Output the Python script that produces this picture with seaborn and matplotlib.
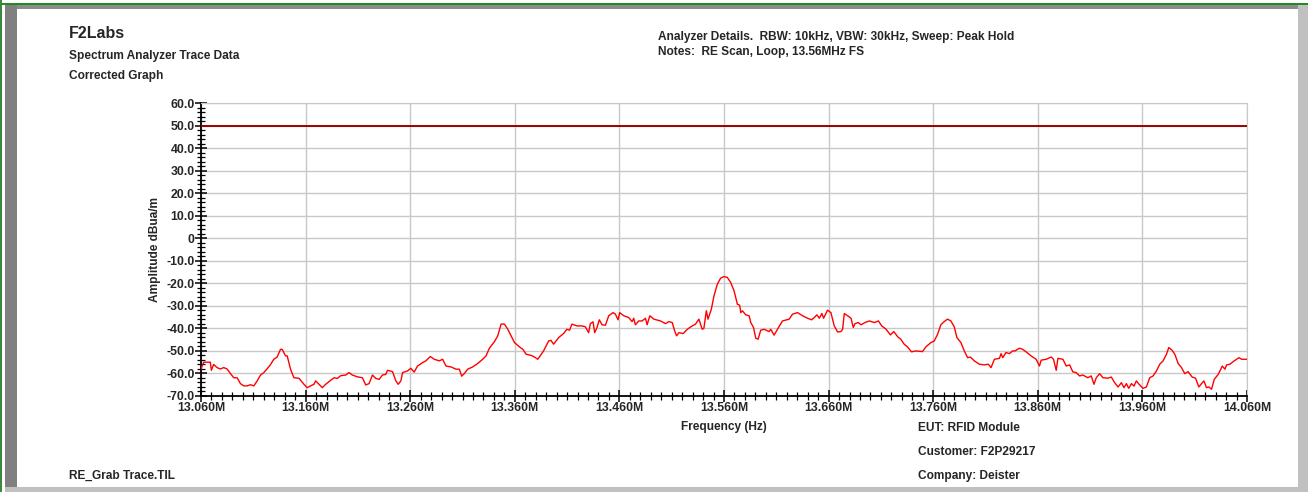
import matplotlib
matplotlib.use("Agg")
import matplotlib.pyplot as plt
from matplotlib.patches import Rectangle
from matplotlib.ticker import MultipleLocator, FuncFormatter
import numpy as np
import pandas as pd
import seaborn as sns

# trace: frequency (kHz) and amplitude (dBuA/m)
freq_khz = [
    13060.0, 13062.6, 13068.9, 13069.9, 13072.1, 13075.3, 13078.5, 13081.7, 13084.9, 13088.1,
    13091.3, 13094.5, 13097.7, 13100.9, 13104.1, 13107.3, 13110.5, 13113.7, 13116.9, 13120.1,
    13123.3, 13126.5, 13129.6, 13132.8, 13136.0, 13137.6, 13140.8, 13142.4, 13145.6, 13148.8,
    13153.6, 13158.4, 13161.6, 13164.8, 13168.0, 13169.6, 13172.8, 13176.0, 13179.2, 13184.0,
    13187.2, 13190.4, 13193.5, 13198.3, 13201.5, 13204.7, 13209.5, 13214.3, 13217.5, 13220.7,
    13223.9, 13227.1, 13230.3, 13233.5, 13236.7, 13238.3, 13243.1, 13246.3, 13248.5, 13251.1,
    13252.7, 13257.4, 13260.6, 13263.8, 13267.0, 13271.8, 13275.0, 13279.2, 13283.0, 13287.8,
    13291.0, 13294.2, 13299.0, 13303.8, 13307.0, 13309.2, 13311.8, 13315.0, 13319.7, 13324.5,
    13329.3, 13332.5, 13335.7, 13340.5, 13343.7, 13346.9, 13350.1, 13353.3, 13356.5, 13359.7,
    13364.5, 13367.7, 13370.9, 13375.7, 13378.8, 13382.0,
    13387.5, 13392.3, 13394.5, 13397.1, 13401.9, 13406.6, 13409.8, 13412.4, 13414.6, 13419.4,
    13424.2, 13427.4, 13430.6, 13432.2, 13434.8, 13436.4, 13438.6, 13440.8, 13443.4, 13446.6,
    13449.8, 13453.9, 13456.2, 13458.7, 13460.3, 13464.2, 13468.9, 13472.1, 13473.7, 13475.3,
    13478.5, 13481.7, 13484.9, 13486.5, 13489.1, 13492.9, 13499.3, 13504.1, 13507.3, 13510.5,
    13512.8, 13514.7, 13516.9, 13521.0, 13524.9, 13529.6, 13532.8, 13536.0, 13539.2, 13540.8,
    13543.1, 13544.7, 13547.9, 13550.4, 13553.6, 13556.8, 13560.0, 13563.2, 13566.4, 13569.6,
    13572.8, 13575.0, 13576.0, 13577.6, 13580.8, 13584.0, 13585.6, 13588.2, 13590.4, 13592.6,
    13595.1, 13598.3, 13603.1, 13604.7, 13607.9, 13611.1, 13615.9, 13622.3, 13625.5, 13630.3,
    13635.1, 13639.9, 13643.7, 13646.3, 13648.8, 13651.1, 13653.6, 13655.2, 13659.0, 13662.2,
    13665.4, 13668.6, 13671.8, 13673.4, 13675.0, 13678.2, 13681.4, 13683.6, 13685.2, 13688.4,
    13691.0, 13694.8, 13699.0, 13703.8, 13707.6, 13710.8, 13715.0, 13719.1, 13722.3, 13726.2,
    13729.0, 13732.2, 13735.4, 13739.2, 13743.4, 13749.8, 13753.0, 13757.8, 13761.0, 13764.2,
    13767.3, 13770.5, 13773.7, 13776.9, 13780.1, 13782.7, 13786.5, 13789.7, 13792.9, 13795.5,
    13799.3, 13804.1, 13808.9, 13812.7, 13815.3, 13818.5, 13823.3, 13824.9, 13826.5, 13829.6,
    13832.8, 13836.0, 13838.3, 13842.4, 13845.6, 13848.8, 13853.6, 13858.4, 13861.6, 13863.2,
    13868.0, 13872.8, 13875.0, 13877.6, 13879.2, 13884.0, 13887.2, 13890.4, 13893.5, 13896.7,
    13899.9, 13903.1, 13907.9, 13911.1, 13913.7, 13915.9, 13919.1, 13922.3, 13927.1, 13930.3,
    13933.5, 13936.7, 13939.9, 13942.4, 13944.7, 13946.9, 13949.5, 13952.0, 13954.2, 13956.8,
    13960.6, 13963.8, 13967.0, 13970.2, 13973.4, 13976.6, 13979.8, 13983.0, 13985.2, 13988.4,
    13991.0, 13994.2, 13997.4, 14000.5, 14003.7, 14007.6, 14010.8, 14014.0, 14016.5, 14018.8,
    14021.3, 14023.6, 14026.1, 14028.7, 14032.5, 14036.4, 14038.9, 14040.5, 14043.7, 14046.9,
    14050.1, 14052.3, 14054.9, 14060.0,
]
amplitude = [
    -58.0, -55.0, -55.0, -58.6, -56.0, -57.4, -58.0, -57.4, -58.0, -60.0,
    -61.9, -61.9, -64.5, -65.5, -65.5, -65.0, -65.5, -63.3, -60.7, -59.6,
    -57.9, -56.0, -53.7, -52.7, -49.3, -49.3, -52.2, -52.2, -58.1, -61.9,
    -62.1, -64.8, -66.3, -65.5, -64.8, -63.3, -64.8, -66.3, -64.8, -63.0,
    -61.9, -62.2, -61.0, -60.7, -59.6, -60.7, -61.5, -61.9, -65.1, -64.5,
    -60.7, -62.2, -62.6, -60.7, -60.4, -58.6, -59.2, -63.3, -64.8, -63.3,
    -59.6, -58.9, -57.7, -59.4, -56.7, -55.2, -54.4, -52.5, -53.7, -54.4,
    -53.7, -56.7, -57.1, -58.1, -58.1, -61.2, -60.0, -58.1, -57.1, -55.6,
    -53.7, -52.2, -48.8, -45.9, -43.3, -38.1, -38.1, -40.4, -43.3, -46.3,
    -48.2, -49.3, -51.5, -52.0, -52.7, -53.7,
    -50.0, -45.6, -45.3, -47.0, -44.1, -42.3, -40.4, -40.8, -38.1, -38.9,
    -38.9, -39.3, -41.9, -37.9, -37.1, -41.9, -39.6, -36.2, -38.4, -38.6,
    -34.4, -33.0, -33.7, -36.2, -33.0, -34.4, -35.2, -37.0, -35.5, -38.4,
    -36.7, -36.7, -35.5, -38.4, -34.4, -35.9, -36.7, -37.9, -37.0, -37.4,
    -41.1, -43.3, -41.9, -42.3, -40.4, -38.9, -38.1, -35.9, -40.4, -39.9,
    -32.2, -35.9, -31.5, -25.6, -20.4, -17.7, -17.0, -17.4, -19.6, -23.3,
    -29.3, -29.7, -33.0, -32.2, -34.0, -34.4, -37.4, -39.6, -44.4, -44.8,
    -40.8, -40.4, -41.4, -40.4, -43.0, -40.4, -36.7, -35.9, -33.7, -33.0,
    -34.4, -35.5, -36.2, -35.2, -34.0, -35.5, -33.4, -35.5, -31.9, -33.0,
    -38.9, -41.6, -41.4, -40.4, -33.4, -34.4, -35.5, -39.6, -37.9, -37.4,
    -38.4, -37.4, -36.7, -37.4, -36.7, -38.9, -40.4, -42.9, -41.4, -43.8,
    -44.8, -47.0, -48.2, -50.4, -50.0, -50.3, -48.2, -46.3, -45.6, -42.6,
    -38.4, -37.0, -35.9, -36.7, -39.3, -44.1, -46.3, -50.0, -53.0, -52.7,
    -54.4, -55.9, -56.2, -55.9, -57.4, -53.7, -53.3, -51.2, -53.0, -50.7,
    -51.2, -50.0, -50.0, -48.8, -49.3, -50.4, -52.2, -53.7, -56.7, -54.1,
    -53.7, -52.7, -53.7, -58.6, -53.3, -53.7, -56.7, -56.2, -59.3, -59.6,
    -61.1, -60.7, -61.9, -61.1, -64.8, -61.9, -60.1, -61.9, -62.1, -61.6,
    -64.1, -66.0, -64.1, -66.3, -64.5, -66.6, -64.5, -65.6, -63.3, -64.8,
    -66.6, -66.0, -61.9, -61.1, -58.9, -55.9, -54.4, -51.5, -48.5, -49.7,
    -51.5, -55.6, -57.4, -60.1, -59.2, -61.6, -62.1, -66.0, -64.5, -63.3,
    -66.3, -66.0, -67.0, -62.6, -60.4, -56.7, -58.1, -56.2, -55.9, -54.7,
    -53.7, -53.0, -53.7, -53.7,
]
limit_db = 50.0

x_ticks_mhz = [13.060, 13.160, 13.260, 13.360, 13.460, 13.560, 13.660, 13.760, 13.860, 13.960, 14.060]
y_ticks = [60, 50, 40, 30, 20, 10, 0, -10, -20, -30, -40, -50, -60, -70]

header_left = ["Spectrum Analyzer Trace Data", "Corrected Graph"]
header_right = ["Analyzer Details.  RBW: 10kHz, VBW: 30kHz, Sweep: Peak Hold",
                "Notes:  RE Scan, Loop, 13.56MHz FS"]
footer_right = ["EUT: RFID Module", "Customer: F2P29217", "Company: Deister"]

df = pd.DataFrame({"freq": np.array(freq_khz) / 1000.0, "amp": amplitude})

sns.set_style("white")
plt.rcParams["font.family"] = ["Liberation Sans", "DejaVu Sans"]
plt.rcParams["font.weight"] = "bold"

W, H = 1308, 492
fig = plt.figure(figsize=(W / 100, H / 100), dpi=100)

# window-style bevel frame
def px_rect(x, y, w, h, color):
    fig.patches.append(Rectangle((x / W, 1 - (y + h) / H), w / W, h / H,
                                 transform=fig.transFigure, color=color, lw=0, zorder=0))

px_rect(0, 0, W, 4, "#ffffff")
px_rect(0, 3, W, 2, "#1e8c1e")
px_rect(0, 0, 2, H, "#3a8a3a")
px_rect(5, 5, 1293, 4, "#8c8c8c")
px_rect(5, 5, 12, 483, "#808080")
px_rect(1298, 5, 10, 487, "#c0c0c0")
px_rect(5, 487, 1303, 5, "#c0c0c0")

ax = fig.add_axes([201 / W, 1 - 396 / H, (1247 - 201) / W, (396 - 103) / H])

sns.lineplot(data=df, x="freq", y="amp", ax=ax, color="#ff0000", lw=1.0,
             estimator=None, sort=False, zorder=3)
ax.axhline(limit_db, color="#9b0000", lw=1.4, zorder=4)

ax.set_xlim(x_ticks_mhz[0], x_ticks_mhz[-1])
ax.set_ylim(min(y_ticks), max(y_ticks))
ax.set_xticks(x_ticks_mhz)
ax.set_yticks(y_ticks)
ax.xaxis.set_minor_locator(MultipleLocator(0.010))
ax.yaxis.set_minor_locator(MultipleLocator(2))
ax.xaxis.set_major_formatter(FuncFormatter(lambda v, p: f"{v:.3f}M"))
ax.yaxis.set_major_formatter(FuncFormatter(lambda v, p: "0" if abs(v) < 1e-9 else f"{v:.1f}"))
ax.grid(True, which="major", color="#c8c8c8", lw=1.0)
ax.set_axisbelow(True)

for s in ["top", "right"]:
    ax.spines[s].set_color("#c8c8c8")
for s in ["left", "bottom"]:
    ax.spines[s].set_color("black")
    ax.spines[s].set_linewidth(1.3)

ax.tick_params(axis="both", which="both", bottom=True, left=True, top=False, right=False)
ax.tick_params(axis="both", which="major", direction="inout", length=9, width=1.1,
               color="black", labelsize=8.8, pad=0)
ax.tick_params(axis="both", which="minor", direction="inout", length=6, width=0.9, color="black")
for lbl in ax.get_xticklabels() + ax.get_yticklabels():
    lbl.set_fontweight("bold")

ax.set_xlabel("Frequency (Hz)", fontsize=8.6, fontweight="bold", labelpad=5)
ax.set_ylabel("Amplitude dBua/m", fontsize=8.6, fontweight="bold", labelpad=4)

def px_text(x, y, s, size=8.6, **kw):
    fig.text(x / W, 1 - y / H, s, fontsize=size, fontweight="bold", va="center", **kw)

px_text(69, 33, "F2Labs", size=11.5)
for i, s in enumerate(header_left):
    px_text(69, 56 + i * 20, s)
for i, s in enumerate(header_right):
    px_text(658, 37 + i * 15, s)
for i, s in enumerate(footer_right):
    px_text(918, 428 + i * 24, s)
px_text(69, 476, "RE_Grab Trace.TIL")

fig.savefig("out.png", dpi=100)
